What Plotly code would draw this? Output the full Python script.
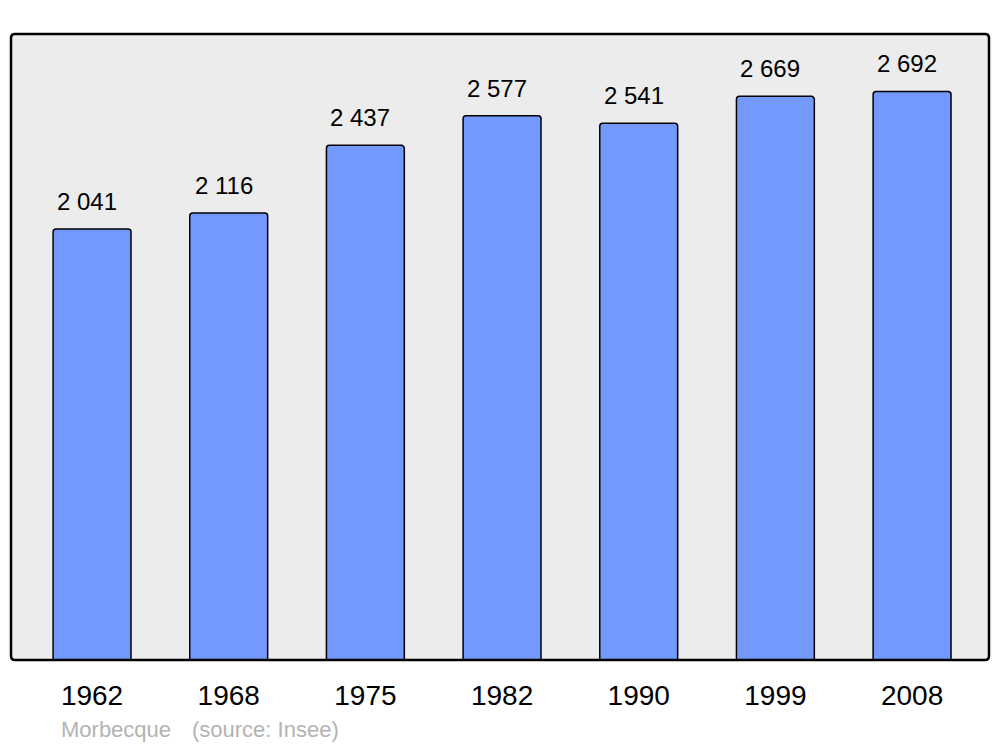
import plotly.graph_objects as go

years = ["1962", "1968", "1975", "1982", "1990", "1999", "2008"]
population = [2041, 2116, 2437, 2577, 2541, 2669, 2692]
commune = "Morbecque"
source = "(source: Insee)"

W, H = 1000, 747
L, R, T, B = 11, 11, 34, 87
pw, ph = W - L - R, H - T - B

fig = go.Figure()
fig.add_trace(go.Bar(
    x=years, y=population, width=0.57,
    marker=dict(color="#7399FF", line=dict(color="black", width=1.5), cornerradius=3),
    hoverinfo="x+y",
))

def fmt(v):
    return f"{v:,}".replace(",", " ")

for i, v in enumerate(population):
    fig.add_annotation(x=i, y=v, text=fmt(v), showarrow=False, yanchor="bottom",
                       yshift=12, xshift=-5, font=dict(size=24, color="black", family="Liberation Sans, Arial"))

fig.add_annotation(xref="paper", yref="paper", x=(59 - L) / pw, y=-(729 - 660) / ph,
                   xanchor="left", yanchor="middle", text=commune, showarrow=False,
                   font=dict(size=22, color="#b3b3b3", family="Liberation Sans, Arial"))
fig.add_annotation(xref="paper", yref="paper", x=(190 - L) / pw, y=-(729 - 660) / ph,
                   xanchor="left", yanchor="middle", text=source, showarrow=False,
                   font=dict(size=22, color="#b3b3b3", family="Liberation Sans, Arial"))

# rounded border of plot area
rx, ry = 4 / pw, 4 / ph
path = (f"M {rx},0 L {1-rx},0 Q 1,0 1,{ry} L 1,{1-ry} Q 1,1 {1-rx},1 "
        f"L {rx},1 Q 0,1 0,{1-ry} L 0,{ry} Q 0,0 {rx},0 Z")
fig.add_shape(type="path", path=path, xref="paper", yref="paper",
              line=dict(color="black", width=2.5), layer="above")

fig.update_layout(
    width=W, height=H,
    margin=dict(l=L, r=R, t=T, b=B),
    paper_bgcolor="white", plot_bgcolor="#ececec",
    showlegend=False,
    font=dict(family="Liberation Sans, Arial", color="black"),
    xaxis=dict(type="category", range=[-0.593, 6.563], showgrid=False, zeroline=False,
               ticks="outside", ticklen=10, tickcolor="rgba(0,0,0,0)",
               tickfont=dict(size=28, color="black"), showline=False),
    yaxis=dict(range=[0, 2964], showgrid=False, zeroline=False, showticklabels=False,
               showline=False),
)

fig.write_html("out.html", config={"displayModeBar": False},
               post_script="document.body.style.margin='0';document.body.style.overflow='hidden';")
